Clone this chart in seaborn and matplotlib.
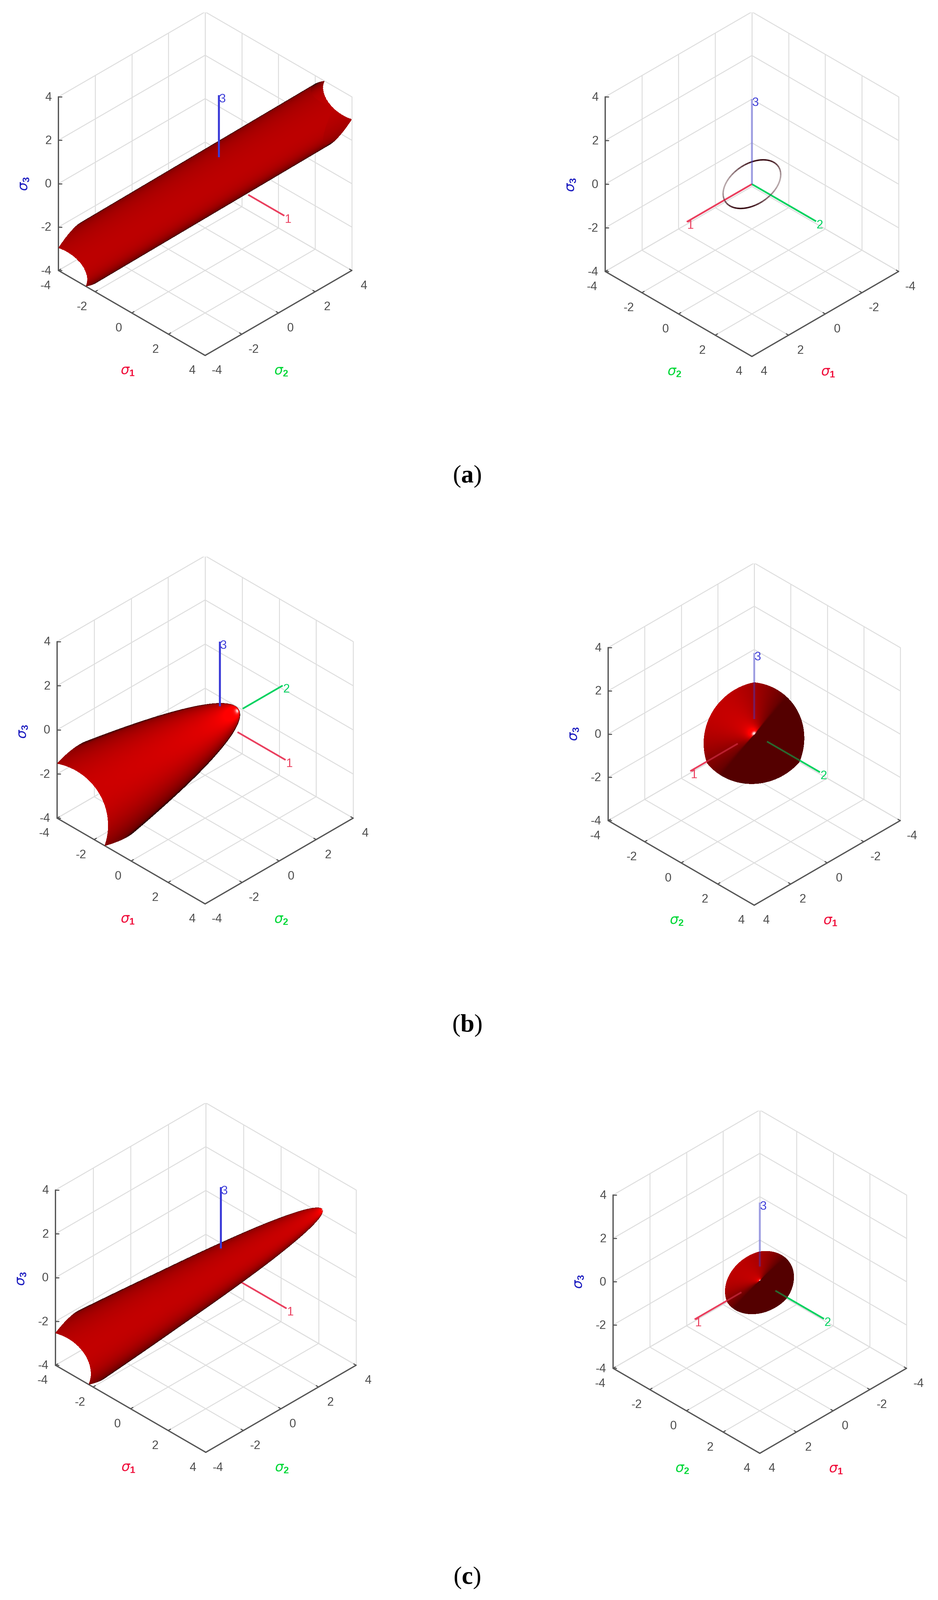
"""
Yield surfaces in principal stress space, left = side view, right = view down the hydrostatic axis
"""
import numpy as np
import matplotlib
matplotlib.use('Agg')
import matplotlib.pyplot as plt
import seaborn as sns
from mpl_toolkits.mplot3d import proj3d

sns.set_theme(style='white')
plt.rcParams.update({'font.family': ['Liberation Sans', 'DejaVu Sans'],
                     'mathtext.fontset': 'custom',
                     'mathtext.rm': 'Liberation Serif',
                     'mathtext.bf': 'Liberation Serif:bold',
                     'mathtext.sf': 'Liberation Sans:bold',
                     'mathtext.it': 'DejaVu Sans:italic'})

# ── Data ─────────────────────────────────────────────────────────────────────
ticks = [-4, -2, 0, 2, 4]
tick_labels = ['-4', '-2', '0', '2', '4']
captions = ['a', 'b', 'c']

# surface sections: hydrostatic station (s1=s2=s3), ellipse semi axes at that station
a_stations = [-8.0, 8.0]
a_major = [1.22, 1.22]
a_minor = [0.77, 0.77]

b_stations = [-4.5, -3.14, -2.0, -1.0, 0.0, 0.9]
b_major = [2.43, 2.10, 1.78, 1.44, 0.99, 0.0]
b_minor = [2.29, 1.98, 1.68, 1.36, 0.93, 0.0]

c_stations = [-4.5, -3.45, -2.0, -1.0, 0.0, 1.5, 3.1]
c_major = [1.56, 1.45, 1.27, 1.13, 0.99, 0.72, 0.0]
c_minor = [1.20, 1.12, 0.98, 0.87, 0.76, 0.55, 0.0]

# triad origin (s1=s2, s3) and visible span of each red/green/blue line
left_origins = [(0.375, 0.27), (0.40, 0.36), (0.40, 0.33)]
left_red = [(1.60, 3.57), (0.95, 3.55), (0.95, 3.50)]
left_green = [None, (1.23, 3.39), None]
left_blue = [(0.95, 3.80), (0.70, 3.63), (1.00, 3.80)]

right_red = [(0.0, 3.55), (0.90, 3.50), (1.00, 3.55)]
right_green = [(0.0, 3.50), (0.70, 3.60), (0.85, 3.50)]
right_blue = [(0.0, 3.90), (0.70, 3.74), (0.70, 3.65)]

# where each box sits in the picture (pixels): front corner x, y, half width, z height
left_boxes = [(625, 1083, 447, 529), (625, 2754, 451, 538), (627, 4425, 458, 534)]
right_boxes = [(2291, 1086, 447, 532), (2298, 2758, 445, 527), (2315, 4428, 447, 528)]
caption_xy = [(1423, 1470), (1423, 3143), (1423, 4826)]

W, H = 2858, 4875
ELEV = 35.4
RED_LINE, GREEN_LINE, BLUE_LINE = sns.color_palette(['#ea3f5e', '#00d25f', '#3c3cd8'])
SIG1, SIG2, SIG3 = '#f0103c', '#00d838', '#1c1cc0'
GRID = '#dddddd'
AXIS = '#555555'
TEXT = '#4d4d4d'

AX = np.ones(3) / np.sqrt(3)
# in-plane directions of the section, taken in the view along the hydrostatic axis
_ang = np.radians(32)
_r = np.array([-1, 1, 0]) / np.sqrt(2)
_u = np.array([-1, -1, 2]) / np.sqrt(6)
E = np.cos(_ang) * _r + np.sin(_ang) * _u
F = -np.sin(_ang) * _r + np.cos(_ang) * _u
LIGHT = np.array([0.35, -0.74, 0.58])
LIGHT = LIGHT / np.linalg.norm(LIGHT)


def view_vectors(azim):
    a, e = np.radians(azim), np.radians(ELEV)
    view = np.array([np.cos(e) * np.cos(a), np.cos(e) * np.sin(a), np.sin(e)])
    right = np.array([-np.sin(a), np.cos(a), 0])
    up = np.array([-np.sin(e) * np.cos(a), -np.sin(e) * np.sin(a), np.cos(e)])
    return view, right, up


def make_surface(stations, major, minor, n_theta=260, n_t=170):
    stations = np.array(stations)
    a2 = np.array(major) ** 2
    b2 = np.array(minor) ** 2
    tapered = major[-1] == 0
    fine = np.linspace(stations[0], stations[-1], 2500)
    fa = np.sqrt(np.interp(fine, stations, a2))
    fb = np.sqrt(np.interp(fine, stations, b2))
    theta = np.linspace(0, 2 * np.pi, n_theta)
    u = np.linspace(0, 1, n_t)
    P = np.zeros((n_t, n_theta, 3))
    for j, th in enumerate(theta):
        pts = fine[:, None] * np.ones(3) + (fa * np.cos(th))[:, None] * E + (fb * np.sin(th))[:, None] * F
        inside = (np.abs(pts) <= 4).all(axis=1)
        lo, hi = fine[inside][0], fine[inside][-1]
        t = hi - (hi - lo) * u ** 2 if tapered else lo + (hi - lo) * u
        ra = np.sqrt(np.interp(t, stations, a2))
        rb = np.sqrt(np.interp(t, stations, b2))
        P[:, j, :] = t[:, None] * np.ones(3) + (ra * np.cos(th))[:, None] * E + (rb * np.sin(th))[:, None] * F
    # normals from the mesh itself
    du = np.gradient(P, axis=0)
    dth = np.gradient(P, axis=1)
    n = np.cross(du, dth)
    radial = P - (P @ AX)[..., None] * AX
    sign = np.sign((n * radial).sum(axis=2))
    sign[sign == 0] = 1
    n = n * sign[..., None]
    norm = np.linalg.norm(n, axis=2, keepdims=True)
    n = np.where(norm > 1e-9, n / np.maximum(norm, 1e-9), AX)
    if tapered:
        n[0] = AX
    return P, n


def shade(n, view, side_view):
    facing = n @ view
    nv = n * np.where(facing < 0, -1.0, 1.0)[..., None]
    dl = np.clip(nv @ LIGHT, 0, 1)
    gate = np.clip(dl / 0.10, 0, 1)
    tip = np.clip(nv @ AX, 0, 1)
    # the highlight slides from the tip towards the viewer in the side views
    spot_dir = AX + 0.5 * view if side_view else AX
    spot_dir = spot_dir / np.linalg.norm(spot_dir)
    spot = np.clip(nv @ spot_dir, 0, 1)
    # only the side views darken towards their outline
    edge = np.clip(0.22 + 2.4 * np.abs(facing), 0, 1) if side_view else 1.0
    red = (0.33 + 0.40 * dl) * edge + gate * (0.22 * tip + 0.55 * spot ** 4)
    white = gate * (0.9 * spot ** 40)
    rgba = np.ones(n.shape[:2] + (4,))
    rgba[..., 0] = np.clip(red, 0, 1)
    rgba[..., 1] = np.clip(white, 0, 1)
    rgba[..., 2] = np.clip(white, 0, 1)
    return rgba


def place(ax, box, azim):
    fx, fy, hw, zh = box
    e = np.radians(ELEV)
    ax.set_box_aspect((1, 1, zh / (hw * np.sqrt(2) * np.cos(e))))
    side = 1400.0
    cx, cy = fx, fy - 500.0
    if azim < 0:
        cor = np.array([[-4, -4, -4], [4, 4, -4], [4, -4, -4]], float)
    else:
        cor = np.array([[4, -4, -4], [-4, 4, -4], [4, 4, -4]], float)
    for _ in range(4):
        ax.set_position([(cx - side / 2) / W, 1 - (cy + side / 2) / H, side / W, side / H])
        ax.apply_aspect()
        x, y, _z = proj3d.proj_transform(cor[:, 0], cor[:, 1], cor[:, 2], ax.get_proj())
        pts = ax.transData.transform(np.column_stack([x, y]))
        meas = (pts[1, 0] - pts[0, 0]) / 2
        side *= hw / meas
        ax.set_position([(cx - side / 2) / W, 1 - (cy + side / 2) / H, side / W, side / H])
        ax.apply_aspect()
        pts = ax.transData.transform(np.column_stack([x, y]))
        cx += fx - pts[2, 0]
        cy += fy - (H - pts[2, 1])


def draw_panel(box, azim, stations, major, minor, origin, red, green, blue, ring=False):
    ax = fig.add_subplot(projection='3d', computed_zorder=False)
    ax.set_proj_type('ortho')
    ax.view_init(elev=ELEV, azim=azim)
    ax.set_xlim(-4, 4)
    ax.set_ylim(-4, 4)
    ax.set_zlim(-4, 4)
    ax.set_axis_off()
    place(ax, box, azim)

    view, right, up = view_vectors(azim)
    M = ax.get_proj()

    def label(p, s, dx=0, dy_down=0, **kw):
        # text goes on the figure, at the screen spot of a point in stress space
        x, y, _z = proj3d.proj_transform(np.array([p[0]], float), np.array([p[1]], float), np.array([p[2]], float), M)
        px, py = ax.transData.transform((x[0], y[0]))
        fig.text((px + dx) / W, (py - dy_down) / H, s, **kw)

    y_back = 4 if azim < 0 else -4
    y_front = -y_back
    # back walls and floor
    for t in ticks:
        ax.plot([t, t], [-4, 4], [-4, -4], color=GRID, lw=2.0, zorder=1)
        ax.plot([-4, 4], [t, t], [-4, -4], color=GRID, lw=2.0, zorder=1)
        ax.plot([-4, -4], [-4, 4], [t, t], color=GRID, lw=2.0, zorder=1)
        ax.plot([-4, 4], [y_back, y_back], [t, t], color=GRID, lw=2.0, zorder=1)
        ax.plot([t, t], [y_back, y_back], [-4, 4], color=GRID, lw=2.0, zorder=1)
        ax.plot([-4, -4], [t, t], [-4, 4], color=GRID, lw=2.0, zorder=1)

    # dark axes with small ticks
    zx = -4 if azim < 0 else 4
    ax.plot([zx, zx], [-4, -4], [-4, 4], color=AXIS, lw=2.8, zorder=2)
    ax.plot([-4, 4], [y_front, y_front], [-4, -4], color=AXIS, lw=2.8, zorder=2)
    ax.plot([4, 4], [-4, 4], [-4, -4], color=AXIS, lw=2.8, zorder=2)
    for t in ticks:
        ax.plot([t, t], [y_front, y_front - np.sign(y_front) * 0.12], [-4, -4], color=AXIS, lw=2.4, zorder=2)
        ax.plot([4, 3.88], [t, t], [-4, -4], color=AXIS, lw=2.4, zorder=2)
        ax.plot([zx, zx + (0.09 if azim < 0 else -0.09)], [-4, -4 + 0.09], [t, t], color=AXIS, lw=2.4, zorder=2)

    # tick labels
    tick_kw = dict(color=TEXT, fontsize=26, va='center')
    for t, lab in zip(ticks, tick_labels):
        label((zx, -4, t), lab, -21, 2, ha='right', **tick_kw)
        if azim < 0:
            label((t, -4, -4), lab, -40, 47, ha='center', **tick_kw)
            label((4, t, -4), lab, 36, 47, ha='center', **tick_kw)
        else:
            label((t, 4, -4), lab, 36, 47, ha='center', **tick_kw)
            label((4, t, -4), lab, -40, 47, ha='center', **tick_kw)

    # axis names
    front = (4, y_front, -4) if azim < 0 else (4, 4, -4)
    name_l, col_l = (r'$\sigma_{\mathsf{1}}$', SIG1) if azim < 0 else (r'$\sigma_{\mathsf{2}}$', SIG2)
    name_r, col_r = (r'$\sigma_{\mathsf{2}}$', SIG2) if azim < 0 else (r'$\sigma_{\mathsf{1}}$', SIG1)
    label(front, name_l, -236, 46, color=col_l, fontsize=30, ha='center', va='center')
    label(front, name_r, 232, 47, color=col_r, fontsize=30, ha='center', va='center')
    label((zx, -4, -4), r'$\sigma_{\mathsf{3}}$', -105, -264, color=SIG3, fontsize=30,
          rotation=90, ha='center', va='center')

    # surface, seen edge-on it is only its rim
    if ring:
        th = np.linspace(0, 2 * np.pi, 49)
        rim = np.outer(major[0] * np.cos(th), E) + np.outer(minor[0] * np.sin(th), F)
        peak = np.abs(rim @ up).max()
        for i in range(48):
            dark = min(abs(rim[i] @ up) / peak, 1.0)
            ax.plot(rim[i:i + 2, 0], rim[i:i + 2, 1], rim[i:i + 2, 2], color='#350810',
                    alpha=0.35 + 0.65 * dark ** 2, lw=3.2, solid_capstyle='butt', zorder=5)
    else:
        P, n = make_surface(stations, major, minor)
        colors = shade(n, view, azim < 0)
        ax.plot_surface(P[..., 0], P[..., 1], P[..., 2], facecolors=colors, rcount=P.shape[0], ccount=P.shape[1],
                        linewidth=0, antialiased=False, shade=False, zorder=4)

    # triad
    oxy, oz = origin
    o = np.array([oxy, oxy, oz])
    is_right = azim > 0
    for span, vec, col, name in [(red, (1, 0, 0), RED_LINE, '1'), (green, (0, 1, 0), GREEN_LINE, '2'),
                                 (blue, (0, 0, 1), BLUE_LINE, '3')]:
        if span is None:
            continue
        vec = np.array(vec, float)
        seg = np.array([o + span[0] * vec, o + span[1] * vec])
        if name == '3':
            alpha = 0.42 if is_right else 1.0
            ax.plot(seg[:, 0], seg[:, 1], seg[:, 2], color=col, lw=4.4, alpha=alpha, zorder=6, solid_capstyle='butt')
        else:
            ax.plot(seg[:, 0], seg[:, 1], seg[:, 2], color=col, lw=3.6, zorder=3, solid_capstyle='butt')
            if is_right:
                ax.plot(seg[:, 0], seg[:, 1], seg[:, 2], color=col, lw=3.6, alpha=0.5, zorder=6,
                        solid_capstyle='butt')
        label(seg[1], name, 11, 12, color=col, fontsize=26, ha='center', va='center')
    return ax


fig = plt.figure(figsize=(W / 100, H / 100), dpi=100, facecolor='white')

sections = [(a_stations, a_major, a_minor), (b_stations, b_major, b_minor), (c_stations, c_major, c_minor)]
for i, (st, ma, mi) in enumerate(sections):
    draw_panel(left_boxes[i], -45, st, ma, mi, left_origins[i], left_red[i], left_green[i], left_blue[i])
    draw_panel(right_boxes[i], 45, st, ma, mi, (0, 0), right_red[i], right_green[i], right_blue[i], ring=(i == 0))

for cap, (x, y) in zip(captions, caption_xy):
    fig.text(x / W, 1 - y / H, r'($\mathbf{%s}$)' % cap, family='Liberation Serif', fontsize=55,
             color='black', ha='center', va='baseline')

fig.savefig('out.png', dpi=100, facecolor='white')
